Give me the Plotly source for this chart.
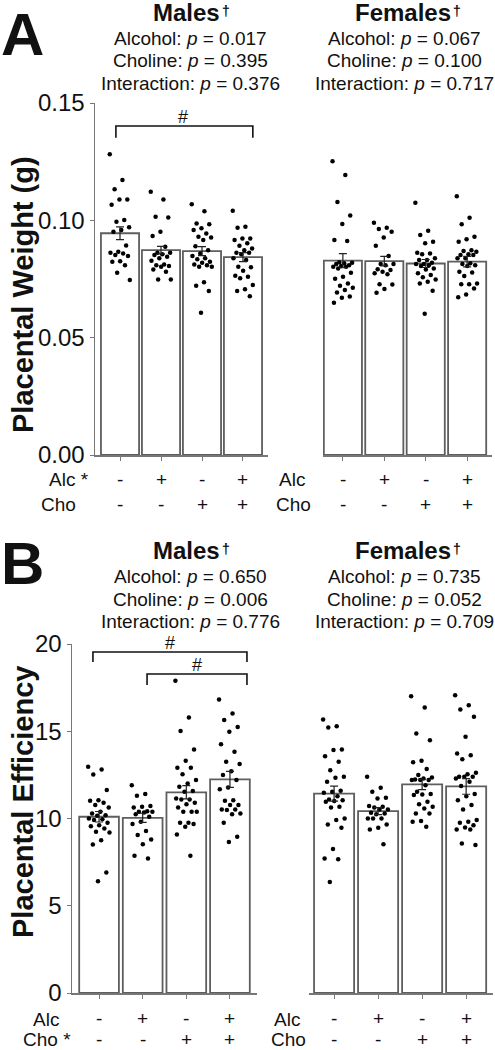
import plotly.graph_objects as go

W, H = 495, 1050
FONT = "Liberation Sans, Arial, sans-serif"

# ---------------- data ----------------
groups = [1, 2, 3, 4]
alc_signs = ["-", "+", "-", "+"]
cho_signs = ["-", "-", "+", "+"]

# Panel A: placental weight (g)
weight_male_mean = [0.0945, 0.0873, 0.0869, 0.0843]
weight_male_sem = [0.0027, 0.0016, 0.0019, 0.0019]
weight_female_mean = [0.0828, 0.0826, 0.0816, 0.0824]
weight_female_sem = [0.0030, 0.0020, 0.0017, 0.0022]

weight_male_pts = [
    [0.1282, 0.1172, 0.1132, 0.1089, 0.1089, 0.1066, 0.1001, 0.0994, 0.0970, 0.0959, 0.0951,
     0.0893, 0.0866, 0.0862, 0.0859, 0.0852, 0.0848, 0.0826, 0.0824, 0.0809, 0.0777, 0.0746],
    [0.1122, 0.1089, 0.1015, 0.1012, 0.0951, 0.0933, 0.0887, 0.0862, 0.0862, 0.0856, 0.0852,
     0.0845, 0.0838, 0.0828, 0.0812, 0.0809, 0.0805, 0.0802, 0.0791, 0.0781, 0.0748, 0.0748],
    [0.1069, 0.1039, 0.0987, 0.0983, 0.0966, 0.0959, 0.0944, 0.0930, 0.0927, 0.0916, 0.0890,
     0.0873, 0.0859, 0.0848, 0.0838, 0.0834, 0.0824, 0.0819, 0.0812, 0.0809, 0.0802, 0.0802,
     0.0736, 0.0721, 0.0699, 0.0606],
    [0.1041, 0.0973, 0.0968, 0.0923, 0.0923, 0.0916, 0.0902, 0.0892, 0.0880, 0.0873, 0.0862,
     0.0862, 0.0856, 0.0838, 0.0831, 0.0802, 0.0800, 0.0785, 0.0764, 0.0760, 0.0753, 0.0724,
     0.0706, 0.0699, 0.0677],
]
weight_female_pts = [
    [0.1252, 0.1193, 0.1078, 0.1021, 0.0984, 0.0916, 0.0912, 0.0821, 0.0819, 0.0817, 0.0814,
     0.0809, 0.0805, 0.0802, 0.0802, 0.0795, 0.0777, 0.0760, 0.0751, 0.0731, 0.0721, 0.0713,
     0.0703, 0.0693, 0.0675, 0.0670, 0.0649],
    [0.0990, 0.0968, 0.0963, 0.0951, 0.0927, 0.0892, 0.0848, 0.0814, 0.0814, 0.0809, 0.0792,
     0.0788, 0.0781, 0.0774, 0.0770, 0.0728, 0.0727, 0.0707, 0.0691],
    [0.1075, 0.0956, 0.0937, 0.0909, 0.0902, 0.0862, 0.0859, 0.0855, 0.0838, 0.0831, 0.0831,
     0.0819, 0.0814, 0.0814, 0.0809, 0.0805, 0.0795, 0.0791, 0.0774, 0.0767, 0.0757, 0.0748,
     0.0738, 0.0731, 0.0700, 0.0602],
    [0.1103, 0.1011, 0.0983, 0.0930, 0.0919, 0.0909, 0.0873, 0.0869, 0.0866, 0.0855, 0.0852,
     0.0852, 0.0838, 0.0838, 0.0817, 0.0814, 0.0809, 0.0805, 0.0781, 0.0778, 0.0763, 0.0731,
     0.0728, 0.0728, 0.0710, 0.0684, 0.0672],
]

# Panel B: placental efficiency
eff_male_mean = [10.10, 10.04, 11.50, 12.24]
eff_male_sem = [0.30, 0.26, 0.38, 0.46]
eff_female_mean = [11.42, 10.42, 11.95, 11.84]
eff_female_sem = [0.43, 0.20, 0.30, 0.45]

eff_male_pts = [
    [12.96, 12.81, 12.52, 11.63, 11.05, 11.02, 10.90, 10.77, 10.63, 10.39, 10.29, 10.19, 10.16,
     10.00, 9.95, 9.91, 9.76, 9.62, 9.56, 9.43, 9.24, 9.20, 8.76, 8.51, 6.91, 6.41],
    [11.91, 11.40, 11.30, 10.71, 10.67, 10.63, 10.42, 10.39, 10.39, 10.35, 10.25, 10.10, 9.81,
     9.68, 9.28, 9.05, 8.80, 8.53, 7.87, 7.71],
    [17.89, 15.79, 15.02, 13.96, 13.31, 12.91, 12.91, 12.54, 12.20, 12.01, 11.82, 11.57, 11.53,
     11.15, 11.09, 11.09, 10.90, 10.82, 10.63, 10.39, 10.39, 10.39, 9.76, 9.76, 9.68, 9.53,
     9.09, 7.87],
    [16.82, 16.02, 15.64, 15.25, 14.97, 14.26, 13.82, 13.25, 13.12, 12.71, 12.49, 12.20, 11.78,
     11.68, 11.05, 11.02, 10.77, 10.77, 10.52, 10.52, 10.48, 10.29, 10.25, 9.76, 8.95, 8.65],
]
eff_female_pts = [
    [15.67, 15.29, 15.22, 13.96, 13.92, 13.57, 13.25, 12.77, 12.39, 12.33, 12.10, 11.59, 11.53,
     11.47, 11.28, 11.09, 11.05, 11.00, 10.96, 10.67, 10.63, 10.00, 9.91, 9.66, 9.47, 8.25,
     7.71, 7.66, 6.36],
    [12.39, 11.76, 11.53, 11.19, 11.15, 10.71, 10.67, 10.63, 10.52, 10.52, 10.33, 10.29, 10.25,
     10.00, 10.00, 10.00, 9.66, 9.47, 9.37, 8.53],
    [17.01, 16.36, 14.87, 14.49, 13.31, 13.23, 12.83, 12.49, 12.35, 12.29, 12.24, 12.20, 12.20,
     12.20, 11.91, 11.53, 11.40, 11.38, 11.34, 10.96, 10.82, 10.67, 10.58, 10.29, 10.29, 9.85,
     9.81, 9.53],
    [17.07, 16.49, 16.25, 15.83, 14.68, 13.73, 13.63, 13.40, 12.62, 12.54, 12.39, 12.39, 12.39,
     12.29, 12.10, 11.86, 11.40, 11.28, 11.05, 10.77, 10.52, 9.91, 9.81, 9.76, 9.62, 9.49,
     9.37, 9.37, 8.57, 8.48],
]

stats_A_male = ["Alcohol: <i>p</i> = 0.017", "Choline: <i>p</i> = 0.395", "Interaction: <i>p</i> = 0.376"]
stats_A_female = ["Alcohol: <i>p</i> = 0.067", "Choline: <i>p</i> = 0.100", "Interaction: <i>p</i> = 0.717"]
stats_B_male = ["Alcohol: <i>p</i> = 0.650", "Choline: <i>p</i> = 0.006", "Interaction: <i>p</i> = 0.776"]
stats_B_female = ["Alcohol: <i>p</i> = 0.735", "Choline: <i>p</i> = 0.052", "Interaction: <i>p</i> = 0.709"]

weight_ticks = [0.0, 0.05, 0.10, 0.15]
weight_ticktext = ["0.00", "0.05", "0.10", "0.15"]
eff_ticks = [0, 5, 10, 15, 20]
eff_ticktext = ["0", "5", "10", "15", "20"]

# ---------------- helpers ----------------
AXIS_GRAY = "#777777"
BAR_EDGE = "#5e5e5e"
TXT = "#111111"


def jitter(n, spread=0.25):
    return [((k * 0.6180339887) % 1.0 - 0.5) * 2 * spread for k in range(n)]


def py(y):
    return 1 - y / H


def px(x):
    return x / W


fig = go.Figure()

panels = [
    # xaxis id, yaxis id, means, sems, pts, bar width
    ("x", "y", weight_male_mean, weight_male_sem, weight_male_pts, 0.93),
    ("x2", "y2", weight_female_mean, weight_female_sem, weight_female_pts, 0.92),
    ("x3", "y3", eff_male_mean, eff_male_sem, eff_male_pts, 0.91),
    ("x4", "y4", eff_female_mean, eff_female_sem, eff_female_pts, 0.91),
]

for xa, ya, means, sems, pts, bw in panels:
    fig.add_trace(go.Bar(
        x=groups, y=means, xaxis=xa, yaxis=ya, width=bw,
        marker=dict(color="white", line=dict(color=BAR_EDGE, width=1.8)),
        showlegend=False, hoverinfo="skip"))
    xs, ys = [], []
    for g, vals in zip(groups, pts):
        for j, v in zip(jitter(len(vals)), vals):
            xs.append(g + j)
            ys.append(v)
    fig.add_trace(go.Scatter(
        x=xs, y=ys, xaxis=xa, yaxis=ya, mode="markers",
        marker=dict(color="black", size=4.5), showlegend=False, hoverinfo="skip"))
    fig.add_trace(go.Scatter(
        x=groups, y=means, xaxis=xa, yaxis=ya, mode="markers",
        marker=dict(color="rgba(0,0,0,0)", size=1),
        error_y=dict(type="data", array=sems, color="#222222", thickness=1.2, width=4),
        showlegend=False, hoverinfo="skip"))

# significance brackets (category units)
brackets = [
    # xaxis, yaxis, left, right, top, drop
    ("x", "y", 0.90, 4.24, 0.1402, 0.0050),
    ("x3", "y3", 0.86, 4.39, 19.54, 0.57),
    ("x3", "y3", 2.10, 4.39, 18.28, 0.63),
]
for xa, ya, x0, x1, top, drop in brackets:
    fig.add_trace(go.Scatter(
        x=[x0, x0, x1, x1], y=[top - drop, top, top, top - drop], xaxis=xa, yaxis=ya,
        mode="lines", line=dict(color="#111111", width=1.6), showlegend=False,
        hoverinfo="skip", cliponaxis=False))

annotations = []
# '#' marks (x in category units, y in page pixels)
for xa, xv, ypix in [("x", 2.54, 117), ("x3", 2.63, 643), ("x3", 3.25, 665)]:
    annotations.append(dict(x=xv, y=py(ypix), xref=xa, yref="paper", text="#", showarrow=False,
                            borderpad=0, font=dict(size=18, color=TXT, family=FONT),
                            yanchor="middle"))


def ann(text, x, y, size, xanchor="center", yanchor="middle", angle=0):
    annotations.append(dict(text=text, x=px(x), y=py(y), xref="paper", yref="paper",
                            showarrow=False, xanchor=xanchor, yanchor=yanchor,
                            borderpad=0, textangle=angle,
                            font=dict(size=size, color=TXT, family=FONT)))


# panel letters
ann("<b>A</b>", 0, 0, 60, xanchor="left", yanchor="top")
ann("<b>B</b>", 0, 563.5, 60, xanchor="left")

# headers: name + small raised dagger
for base in (0, 538):
    ann("<b>Males</b>", 221, 12 + base, 24, xanchor="right")
    ann("<b>†</b>", 221, 1.5 + base, 14, xanchor="left", yanchor="top")
    ann("<b>Females</b>", 452, 12 + base, 24, xanchor="right")
    ann("<b>†</b>", 452, 1.5 + base, 14, xanchor="left", yanchor="top")

for i, (m, f) in enumerate(zip(stats_A_male, stats_A_female)):
    yy = 38.5 + i * 22.5
    ann(m, 190, yy, 19)
    ann(f, 404, yy, 19)
for i, (m, f) in enumerate(zip(stats_B_male, stats_B_female)):
    yy = 576.5 + i * 22.5
    ann(m, 190, yy, 19)
    ann(f, 404, yy, 19)

# y-axis titles
ann("<b>Placental Weight (g)</b>", 23, 295, 29, angle=-90)
ann("<b>Placental Efficiency</b>", 23, 802, 29, angle=-90)

# +/- condition labels under each bar
for xa, row1, row2 in [("x", 479, 504), ("x2", 479, 504), ("x3", 1018, 1039), ("x4", 1018, 1039)]:
    for g, a, c in zip(groups, alc_signs, cho_signs):
        for txt, yy in ((a, row1), (c, row2)):
            annotations.append(dict(text=txt, x=g, y=py(yy), xref=xa, yref="paper",
                                    showarrow=False, yanchor="middle", borderpad=0,
                                    font=dict(size=19, color=TXT, family=FONT)))
ann("Alc *", 48, 480, 19, xanchor="left")
ann("Cho", 40, 504.5, 19, xanchor="left")
ann("Alc", 278, 480, 19, xanchor="left")
ann("Cho", 275, 504.5, 19, xanchor="left")
ann("Alc", 32, 1019, 19, xanchor="left")
ann("Cho *", 22, 1039, 19, xanchor="left")
ann("Alc", 273, 1019, 19, xanchor="left")
ann("Cho", 270, 1039, 19, xanchor="left")


def xaxis_cfg(x0, x1, rng, anchor):
    return dict(domain=[px(x0), px(x1)], range=rng, anchor=anchor, showline=True,
                linecolor=AXIS_GRAY, linewidth=1.5, ticks="outside", ticklen=4,
                tickcolor=AXIS_GRAY, tickwidth=1, tickvals=groups, showticklabels=False,
                showgrid=False, zeroline=False, fixedrange=True, automargin=False)


def yaxis_cfg(top, bottom, rng, tv, tt, anchor, visible=True):
    return dict(domain=[py(bottom), py(top)], range=rng, anchor=anchor, visible=visible,
                showline=True, linecolor=AXIS_GRAY, linewidth=1.5, ticks="outside",
                ticklen=4, tickcolor=AXIS_GRAY, tickwidth=1, tickvals=tv, ticktext=tt,
                tickfont=dict(size=24, color=TXT, family=FONT), showgrid=False,
                zeroline=False, fixedrange=True, automargin=False)


fig.update_layout(
    width=W, height=H, autosize=False,
    margin=dict(l=0, r=0, t=0, b=0, pad=0, autoexpand=False),
    paper_bgcolor="white", plot_bgcolor="white",
    font=dict(family=FONT, color=TXT),
    bargap=0,
    xaxis=xaxis_cfg(95, 268, [0.39, 4.61], "y"),
    xaxis2=xaxis_cfg(323, 492, [0.52, 4.6], "y2"),
    xaxis3=xaxis_cfg(72, 257, [0.38, 4.62], "y3"),
    xaxis4=xaxis_cfg(309, 493, [0.43, 4.61], "y4"),
    yaxis=yaxis_cfg(103, 455, [0, 0.15], weight_ticks, weight_ticktext, "x"),
    yaxis2=yaxis_cfg(103, 455, [0, 0.15], weight_ticks, weight_ticktext, "x2", visible=False),
    yaxis3=yaxis_cfg(644, 993, [0, 20], eff_ticks, eff_ticktext, "x3"),
    yaxis4=yaxis_cfg(644, 993, [0, 20], eff_ticks, eff_ticktext, "x4", visible=False),
    annotations=annotations,
)

fig.write_html("out.html", config={"displayModeBar": False, "staticPlot": True},
               post_script="document.body.style.margin='0';")
